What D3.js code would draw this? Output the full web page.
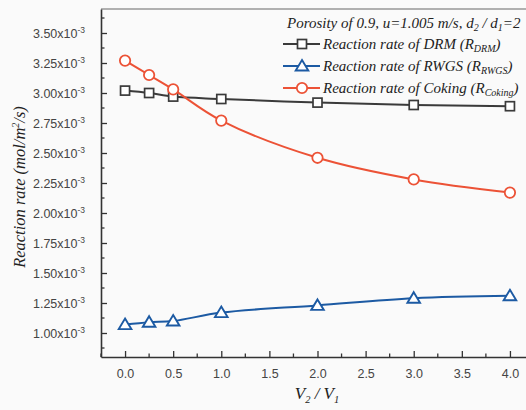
<!DOCTYPE html>
<html>
<head>
<meta charset="utf-8">
<script src="https://cdn.jsdelivr.net/npm/d3@7"></script>
<style>
  html, body { margin: 0; padding: 0; background: #fafafa; }
  svg { display: block; }
</style>
</head>
<body>
<svg id="chart" width="526" height="410"></svg>
<script>
// Volume ratio V2/V1 on the x axis
const ratios = [0, 0.25, 0.5, 1, 2, 3, 4];
// Reaction rates, in units of 1e-3 mol/m2/s
const rateDRM    = [3.02, 3.00, 2.97, 2.95, 2.92, 2.90, 2.89];
const rateRWGS   = [1.07, 1.09, 1.10, 1.17, 1.23, 1.29, 1.31];
const rateCoking = [3.27, 3.15, 3.03, 2.77, 2.46, 2.28, 2.17];
const xTickLabels = ["0.0", "0.5", "1.0", "1.5", "2.0", "2.5", "3.0", "3.5", "4.0"];
const yTickLabels = ["1.00", "1.25", "1.50", "1.75", "2.00", "2.25", "2.50", "2.75", "3.00", "3.25", "3.50"];

const svg = d3.select("#chart");
const plotLeft = 101, plotTop = 9, plotBottom = 357;

const x = d3.scaleLinear().domain([-0.25, 4.25]).range([plotLeft, 534]);
const y = d3.scaleLinear().domain([0.8, 3.7]).range([plotBottom, plotTop]);

const axisColor = "#333";
const labelColor = "#444";

// frame: top border and the two axes
svg.append("line").attr("x1", plotLeft).attr("x2", 526).attr("y1", plotTop).attr("y2", plotTop)
  .attr("stroke", "#666").attr("stroke-width", 1.2);

// x axis with inward ticks
const xMajor = xTickLabels.map(Number);
const xMinor = d3.range(-0.25, 4.26, 0.25).filter(v => !xMajor.some(m => Math.abs(m - v) < 1e-6));
const xAxis = svg.append("g").attr("transform", `translate(0,${plotBottom})`)
  .call(d3.axisBottom(x).tickValues(xMajor).tickSizeInner(-6).tickSizeOuter(0)
        .tickFormat((d, i) => xTickLabels[i]).tickPadding(12));
xAxis.select(".domain").attr("stroke", axisColor).attr("stroke-width", 1.6);
xAxis.selectAll(".tick line").attr("stroke", axisColor).attr("stroke-width", 1.3);
xAxis.selectAll(".tick text").attr("fill", labelColor)
  .attr("font-family", "Liberation Sans, Arial, sans-serif").attr("font-size", 12.5);
xAxis.selectAll(".minor").data(xMinor).enter().append("line")
  .attr("x1", d => x(d)).attr("x2", d => x(d)).attr("y1", 0).attr("y2", -3.5)
  .attr("stroke", axisColor).attr("stroke-width", 1.3);

// y axis with inward ticks
const yMajor = yTickLabels.map(Number);
const yMinor = d3.range(0.875, 3.7, 0.25);
const yAxis = svg.append("g").attr("transform", `translate(${plotLeft},0)`)
  .call(d3.axisLeft(y).tickValues(yMajor).tickSizeInner(-6).tickSizeOuter(0)
        .tickFormat(() => "").tickPadding(12));
yAxis.select(".domain").attr("stroke", axisColor).attr("stroke-width", 1.6);
yAxis.selectAll(".tick line").attr("stroke", axisColor).attr("stroke-width", 1.3);
yAxis.selectAll(".tick text").remove();
yAxis.selectAll(".minor").data(yMinor).enter().append("line")
  .attr("x1", 0).attr("x2", 3.5).attr("y1", d => y(d)).attr("y2", d => y(d))
  .attr("stroke", axisColor).attr("stroke-width", 1.3);

// y tick labels in "1.00x10^-3" form
yTickLabels.forEach(lbl => {
  const t = svg.append("text")
    .attr("x", 85).attr("y", y(+lbl) + 4.5)
    .attr("text-anchor", "end")
    .attr("fill", labelColor)
    .attr("font-family", "Liberation Sans, Arial, sans-serif")
    .attr("font-size", 12.5);
  t.append("tspan").text(lbl + "x10");
  t.append("tspan").attr("dy", -5).attr("font-size", 8.5).text("-3");
});

// series
const series = [
  { name: "DRM",    sub: "DRM",    values: rateDRM,    color: "#3a3a3a", marker: "square" },
  { name: "RWGS",   sub: "RWGS",   values: rateRWGS,   color: "#1c5aa3", marker: "triangle" },
  { name: "Coking", sub: "Coking", values: rateCoking, color: "#ec5236", marker: "circle" }
];

const line = d3.line().x(d => x(d[0])).y(d => y(d[1])).curve(d3.curveCatmullRom.alpha(0.5));

function drawMarker(g, type, cx, cy, color) {
  if (type === "square") {
    g.append("rect").attr("x", cx - 4.5).attr("y", cy - 4.5).attr("width", 9).attr("height", 9)
      .attr("fill", "#fff").attr("stroke", color).attr("stroke-width", 1.7);
  } else if (type === "triangle") {
    const s = 6;
    g.append("path")
      .attr("d", `M${cx},${cy - s}L${cx + s * 1.05},${cy + s * 0.75}L${cx - s * 1.05},${cy + s * 0.75}Z`)
      .attr("fill", "#fff").attr("stroke", color).attr("stroke-width", 1.9);
  } else {
    g.append("circle").attr("cx", cx).attr("cy", cy).attr("r", 5.2)
      .attr("fill", "#fff").attr("stroke", color).attr("stroke-width", 1.8);
  }
}

series.forEach(s => {
  const pts = ratios.map((r, i) => [r, s.values[i]]);
  svg.append("path").datum(pts).attr("d", line)
    .attr("fill", "none").attr("stroke", s.color).attr("stroke-width", 2);
  const g = svg.append("g");
  pts.forEach(p => drawMarker(g, s.marker, x(p[0]), y(p[1]), s.color));
});

// legend
const serif = "Liberation Serif, Times New Roman, serif";
const header = svg.append("text").attr("x", 287).attr("y", 27.5)
  .attr("font-family", serif).attr("font-style", "italic").attr("font-size", 15).attr("fill", "#222");
header.append("tspan").text("Porosity of 0.9, u=1.005 m/s, d");
header.append("tspan").attr("dy", 3).attr("font-size", 10).text("2");
header.append("tspan").attr("dy", -3).text(" / d");
header.append("tspan").attr("dy", 3).attr("font-size", 10).text("1");
header.append("tspan").attr("dy", -3).text("=2");

series.forEach((s, i) => {
  const cy = 44 + i * 22;
  svg.append("line").attr("x1", 283).attr("x2", 320).attr("y1", cy).attr("y2", cy)
    .attr("stroke", s.color).attr("stroke-width", 2);
  drawMarker(svg, s.marker, 302, cy, s.color);
  const t = svg.append("text").attr("x", 323).attr("y", cy + 5)
    .attr("font-family", serif).attr("font-style", "italic").attr("font-size", 15).attr("fill", "#222");
  t.append("tspan").text(`Reaction rate of ${s.name} (R`);
  t.append("tspan").attr("dy", 3).attr("font-size", 10).text(s.sub);
  t.append("tspan").attr("dy", -3).text(")");
});

// axis titles
const yTitle = svg.append("text")
  .attr("transform", `translate(25,${(plotTop + plotBottom) / 2 + 4}) rotate(-90)`)
  .attr("text-anchor", "middle")
  .attr("font-family", serif).attr("font-style", "italic").attr("font-size", 16.5).attr("fill", "#222");
yTitle.append("tspan").text("Reaction rate (mol/m");
yTitle.append("tspan").attr("dy", -6).attr("font-size", 10).text("2");
yTitle.append("tspan").attr("dy", 6).text("/s)");

const xTitle = svg.append("text").attr("x", 317).attr("y", 399)
  .attr("text-anchor", "middle")
  .attr("font-family", serif).attr("font-style", "italic").attr("font-size", 17).attr("fill", "#222");
xTitle.append("tspan").text("V");
xTitle.append("tspan").attr("dy", 4).attr("font-size", 10.5).text("2");
xTitle.append("tspan").attr("dy", -4).text(" / V");
xTitle.append("tspan").attr("dy", 4).attr("font-size", 10.5).text("1");
</script>
</body>
</html>
